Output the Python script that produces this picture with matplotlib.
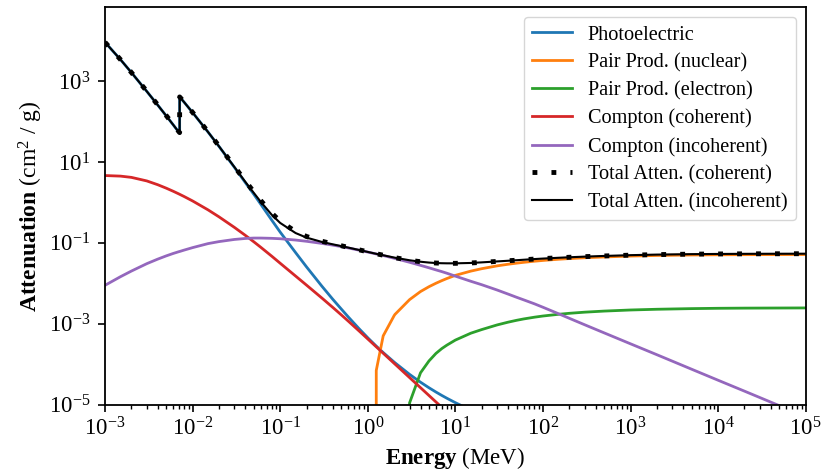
import matplotlib
matplotlib.use("Agg")
import matplotlib.pyplot as plt
import numpy as np
from matplotlib.ticker import FixedLocator, NullLocator

# photon energy grid (MeV); 7.112 keV appears twice for the K edge
energy = [1e-3, 1.5e-3, 2e-3, 3e-3, 4e-3, 5e-3, 6e-3, 7e-3, 7.112e-3, 7.112e-3,
          8e-3, 1e-2, 1.5e-2, 2e-2, 3e-2, 4e-2, 5e-2, 6e-2, 8e-2, 0.1,
          0.15, 0.2, 0.3, 0.4, 0.5, 0.6, 0.8, 1.0, 1.022, 1.25,
          1.5, 2.0, 2.044, 3.0, 4.0, 5.0, 6.0, 7.0, 8.0, 10.0,
          15.0, 20.0, 30.0, 40.0, 50.0, 60.0, 80.0, 100.0, 150.0, 200.0,
          300.0, 500.0, 1e3, 2e3, 5e3, 1e4, 2e4, 5e4, 1e5]

# mass attenuation coefficients (cm^2/g)
photoelectric = [9080, 3395, 1622, 554, 254, 137.6, 82.8, 53.5, 51.3, 403,
                 300, 166, 54.8, 24.2, 7.35, 3.08, 1.58, 0.90, 0.365, 0.1838,
                 0.05716, 0.02532, 0.008405, 0.003978, 0.002287, 0.001463, 7.42e-4, 4.49e-4, 4.28e-4, 2.79e-4,
                 1.932e-4, 1.125e-4, 1.081e-4, 5.59e-5, 3.58e-5, 2.608e-5, 2.046e-5, 1.685e-5, 1.436e-5, 1.116e-5,
                 7.29e-6, 5.47e-6, 3.65e-6, 2.73e-6, 2.19e-6, 1.82e-6, 1.37e-6, 1.09e-6, 7.3e-7, 5.5e-7,
                 3.65e-7, 2.2e-7, 1.1e-7, 5.5e-8, 2.2e-8, 1.1e-8, 5.5e-9, 2.2e-9, 1.1e-9]

pair_nuclear = [0.0] * 29 + [
    7.0e-5, 5.01e-4, 1.585e-3, 1.698e-3, 3.936e-3, 6.237e-3, 8.222e-3, 0.0100, 0.01161, 0.01309,
    0.01567, 0.01995, 0.02291, 0.02692, 0.02951, 0.03141, 0.03289, 0.03508, 0.03664, 0.03917,
    0.04074, 0.04266, 0.04467, 0.04699, 0.04864, 0.0500, 0.05058, 0.05093, 0.05117, 0.05129]

pair_electron = [0.0] * 33 + [
    1.1e-5, 6.11e-5, 1.202e-4, 1.841e-4, 2.427e-4, 2.951e-4, 3.936e-4, 5.821e-4, 7.161e-4, 9.333e-4,
    1.091e-3, 1.213e-3, 1.309e-3, 1.449e-3, 1.549e-3, 1.706e-3, 1.807e-3, 1.928e-3, 2.051e-3, 2.183e-3,
    2.275e-3, 2.36e-3, 2.404e-3, 2.427e-3, 2.443e-3, 2.455e-3]

coherent = [4.6, 4.453, 4.145, 3.385, 2.728, 2.242, 1.882, 1.608, 1.581, 1.581,
            1.394, 1.083, 0.6524, 0.4386, 0.2407, 0.1528, 0.1058, 0.07757, 0.04676, 0.03123,
            0.01505, 0.008967, 0.004287, 0.002511, 0.001643, 0.001154, 6.548e-4, 4.19e-4, 4.012e-4, 2.681e-4,
            1.862e-4, 1.047e-4, 1.003e-4, 4.656e-5, 2.619e-5, 1.676e-5, 1.164e-5, 8.553e-6, 6.548e-6, 4.19e-6,
            1.862e-6, 1.047e-6, 4.656e-7, 2.619e-7, 1.676e-7, 1.164e-7, 6.548e-8, 4.19e-8, 1.862e-8, 1.047e-8,
            4.656e-9, 1.676e-9, 4.19e-10, 1.047e-10, 1.676e-11, 4.19e-12, 1.047e-12, 1.676e-13, 4.19e-14]

incoherent = [0.0089, 0.0145, 0.0200, 0.0305, 0.0395, 0.0475, 0.0545, 0.0605, 0.061, 0.061,
              0.066, 0.076, 0.0955, 0.107, 0.121, 0.128, 0.131, 0.131, 0.129, 0.126,
              0.117, 0.109, 0.0965, 0.0875, 0.0805, 0.0745, 0.0655, 0.059, 0.0584, 0.0530,
              0.0485, 0.0415, 0.041, 0.0330, 0.0277, 0.0241, 0.0214, 0.0194, 0.0177, 0.0150,
              0.0112, 0.0092, 0.0068, 0.0054, 0.0045, 0.0039, 0.0031, 0.00255, 0.00177, 0.00136,
              9.4e-4, 5.93e-4, 3.18e-4, 1.71e-4, 7.47e-5, 4.0e-5, 2.15e-5, 9.4e-6, 5.0e-6]

x_ticks = [1e-3, 1e-2, 1e-1, 1e0, 1e1, 1e2, 1e3, 1e4, 1e5]
y_ticks = [1e-5, 1e-3, 1e-1, 1e1, 1e3]

plt.rcParams["font.family"] = "serif"
plt.rcParams["font.serif"] = ["Liberation Serif", "DejaVu Serif"]
plt.rcParams["mathtext.fontset"] = "custom"
plt.rcParams["mathtext.rm"] = "Liberation Serif"
plt.rcParams["mathtext.it"] = "Liberation Serif:italic"
plt.rcParams["mathtext.bf"] = "Liberation Serif:bold"

E = np.array(energy)
pe = np.array(photoelectric)
pn = np.array(pair_nuclear)
pel = np.array(pair_electron)
coh = np.array(coherent)
inc = np.array(incoherent)
# totals are the sums of the read components
total_coh = pe + pn + pel + coh + inc
total_inc = pe + pn + pel + inc

fig, ax = plt.subplots(figsize=(8.23, 4.76), dpi=100)
fig.subplots_adjust(left=0.1276, right=0.979, bottom=0.150, top=0.985)

lw = 2.0
ax.plot(E, pe, color="C0", lw=lw, label="Photoelectric")
ax.plot(E, pn, color="C1", lw=lw, label="Pair Prod. (nuclear)")
ax.plot(E, pel, color="C2", lw=lw, label="Pair Prod. (electron)")
ax.plot(E, coh, color="C3", lw=lw, label="Compton (coherent)")
ax.plot(E, inc, color="C4", lw=lw, label="Compton (incoherent)")
ax.plot(E, total_coh, color="black", lw=3.5, dashes=(1, 2.9), label="Total Atten. (coherent)")
ax.plot(E, total_inc, color="black", lw=1.5, label="Total Atten. (incoherent)")

ax.set_xscale("log")
ax.set_yscale("log")
ax.set_xlim(1e-3, 1e5)
ax.set_ylim(1e-5, 6.7e4)

minor_x = [m * t for t in x_ticks[:-1] for m in range(2, 10)]
ax.xaxis.set_major_locator(FixedLocator(x_ticks))
ax.xaxis.set_minor_locator(FixedLocator(minor_x))
ax.yaxis.set_major_locator(FixedLocator(y_ticks))
ax.yaxis.set_minor_locator(NullLocator())

ax.tick_params(labelsize=16.5, width=1.2, length=5)
ax.tick_params(axis="x", pad=4.5)
ax.tick_params(axis="y", pad=5.5)
ax.tick_params(which="minor", width=1.0, length=3)
for s in ax.spines.values():
    s.set_linewidth(1.3)

ax.set_xlabel(r"$\mathbf{Energy}$ (MeV)", fontsize=16.5, labelpad=3)
ax.set_ylabel(r"$\mathbf{Attenuation}$ (cm$^2$ / g)", fontsize=17, labelpad=3)
ax.legend(loc="upper right", fontsize=14.6, handlelength=1.95, labelspacing=0.42)

fig.savefig("out.png", dpi=100)
